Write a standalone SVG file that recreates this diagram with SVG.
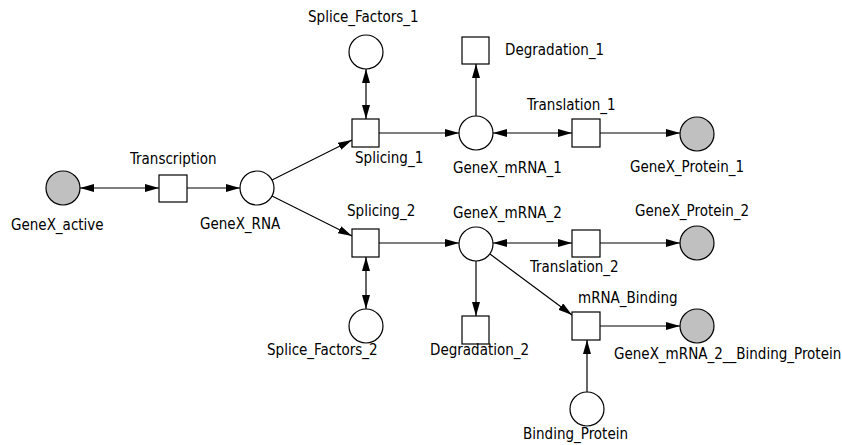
<svg xmlns="http://www.w3.org/2000/svg" width="842" height="445" viewBox="0 0 842 445">
<style>
.p{fill:#ffffff;stroke:#000;stroke-width:1.2}
.g{fill:#c0c0c0;stroke:#000;stroke-width:1.2}
.t{fill:#ffffff;stroke:#000;stroke-width:1.2}
.e{stroke:#000;stroke-width:1.2;fill:none;marker-end:url(#ah)}
.b{marker-start:url(#ah)}
text{font-family:"DejaVu Sans Condensed","DejaVu Sans",sans-serif;font-stretch:condensed;font-size:15px;fill:#000}
</style>
<defs>
<marker id="ah" markerUnits="userSpaceOnUse" markerWidth="15" markerHeight="9" refX="14" refY="4" orient="auto-start-reverse">
<path d="M0,0 L14,4 L0,8 z" fill="#000"/>
</marker>
</defs>
<rect width="842" height="445" fill="#fff"/>
<g id="connectors">
<line class="e b" x1="80" y1="188" x2="159" y2="188"/>
<line class="e" x1="187" y1="188" x2="240" y2="188"/>
<line class="e" x1="272" y1="180" x2="352" y2="140"/>
<line class="e" x1="272" y1="196" x2="352" y2="236"/>
<line class="e" x1="379" y1="133" x2="459" y2="133"/>
<line class="e b" x1="366" y1="69" x2="366" y2="119"/>
<line class="e" x1="476" y1="116" x2="476" y2="64"/>
<line class="e b" x1="493" y1="133" x2="572" y2="133"/>
<line class="e" x1="600" y1="133" x2="680" y2="133"/>
<line class="e" x1="379" y1="243" x2="459" y2="243"/>
<line class="e b" x1="366" y1="257" x2="366" y2="309"/>
<line class="e" x1="476" y1="261" x2="476" y2="316"/>
<line class="e b" x1="493" y1="243" x2="572" y2="243"/>
<line class="e" x1="600" y1="243" x2="680" y2="243"/>
<line class="e" x1="490" y1="254" x2="572" y2="315"/>
<line class="e" x1="600" y1="326" x2="680" y2="326"/>
<line class="e" x1="587" y1="392" x2="587" y2="340"/>
</g>
<g id="GeneX_active"><circle class="g" cx="63" cy="188" r="17"/><text x="11" y="230">GeneX_active</text></g>
<g id="Transcription"><rect class="t" x="159" y="175" width="28" height="27"/><text x="130" y="164">Transcription</text></g>
<g id="GeneX_RNA"><circle class="p" cx="257" cy="188" r="17"/><text x="200" y="229">GeneX_RNA</text></g>
<g id="Splice_Factors_1"><circle class="p" cx="366" cy="52" r="17"/><text x="308" y="22">Splice_Factors_1</text></g>
<g id="Splicing_1"><rect class="t" x="352" y="119" width="27" height="28"/><text x="355" y="163">Splicing_1</text></g>
<g id="Degradation_1"><rect class="t" x="462" y="37" width="27" height="27"/><text x="505" y="55">Degradation_1</text></g>
<g id="GeneX_mRNA_1"><circle class="p" cx="476" cy="133" r="17"/><text x="453" y="173">GeneX_mRNA_1</text></g>
<g id="Translation_1"><rect class="t" x="572" y="119" width="28" height="28"/><text x="527" y="110">Translation_1</text></g>
<g id="GeneX_Protein_1"><circle class="g" cx="697" cy="134" r="17"/><text x="630" y="172">GeneX_Protein_1</text></g>
<g id="Splicing_2"><rect class="t" x="352" y="229" width="27" height="28"/><text x="347" y="216">Splicing_2</text></g>
<g id="GeneX_mRNA_2"><circle class="p" cx="476" cy="244" r="17"/><text x="453" y="218">GeneX_mRNA_2</text></g>
<g id="Translation_2"><rect class="t" x="572" y="230" width="28" height="27"/><text x="530" y="272">Translation_2</text></g>
<g id="GeneX_Protein_2"><circle class="g" cx="697" cy="243" r="17"/><text x="635" y="216">GeneX_Protein_2</text></g>
<g id="Splice_Factors_2"><circle class="p" cx="366" cy="326" r="17"/><text x="267" y="355">Splice_Factors_2</text></g>
<g id="Degradation_2"><rect class="t" x="462" y="316" width="27" height="28"/><text x="430" y="355">Degradation_2</text></g>
<g id="mRNA_Binding"><rect class="t" x="572" y="312" width="28" height="28"/><text x="578" y="303">mRNA_Binding</text></g>
<g id="GeneX_mRNA_2__Binding_Protein"><circle class="g" cx="697" cy="326" r="17"/><text x="614" y="359">GeneX_mRNA_2__Binding_Protein</text></g>
<g id="Binding_Protein"><circle class="p" cx="587" cy="409" r="17"/><text x="523" y="439">Binding_Protein</text></g>
</svg>
